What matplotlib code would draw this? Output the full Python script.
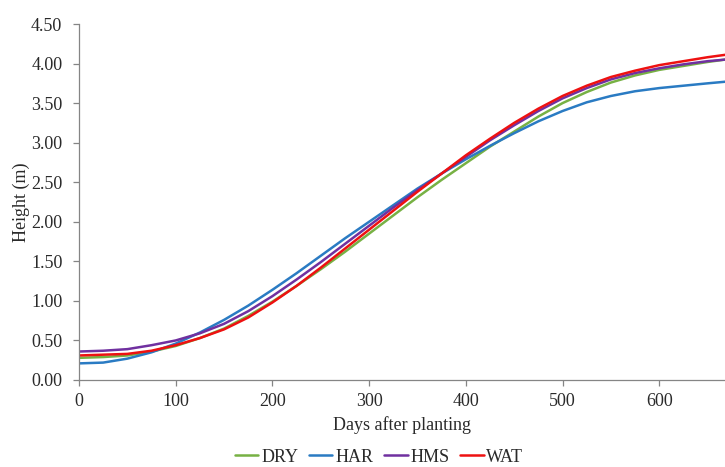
import matplotlib
matplotlib.use("Agg")
import matplotlib.pyplot as plt

days = [0, 25, 50, 75, 100, 125, 150, 175, 200, 225, 250, 275, 300, 325, 350,
        375, 400, 425, 450, 475, 500, 525, 550, 575, 600, 625, 650, 668]

dry = [0.28, 0.29, 0.31, 0.36, 0.43, 0.53, 0.65, 0.81, 0.99, 1.19, 1.40, 1.62, 1.85, 2.08,
       2.31, 2.53, 2.74, 2.95, 3.14, 3.33, 3.50, 3.64, 3.76, 3.85, 3.92, 3.97, 4.02, 4.05]
har = [0.21, 0.22, 0.27, 0.35, 0.46, 0.60, 0.76, 0.94, 1.14, 1.35, 1.57, 1.79, 2.00, 2.21,
       2.42, 2.61, 2.79, 2.96, 3.12, 3.27, 3.40, 3.51, 3.59, 3.65, 3.69, 3.72, 3.75, 3.77]
hms = [0.36, 0.37, 0.39, 0.44, 0.50, 0.59, 0.71, 0.87, 1.06, 1.27, 1.49, 1.72, 1.95, 2.18,
       2.40, 2.61, 2.82, 3.03, 3.22, 3.40, 3.56, 3.69, 3.80, 3.88, 3.94, 3.99, 4.03, 4.05]
wat = [0.31, 0.32, 0.33, 0.37, 0.44, 0.53, 0.64, 0.79, 0.98, 1.19, 1.42, 1.66, 1.90, 2.14,
       2.38, 2.61, 2.84, 3.05, 3.25, 3.43, 3.59, 3.72, 3.83, 3.91, 3.98, 4.03, 4.08, 4.11]

series_names = ["DRY", "HAR", "HMS", "WAT"]
series_vals = [dry, har, hms, wat]
colors = ["#77b144", "#2a7bc3", "#7030a0", "#ee1111"]

plt.rcParams['font.family'] = ['Liberation Serif', 'DejaVu Serif']

fig = plt.figure(figsize=(7.25, 4.67), dpi=100)
ax = fig.add_axes([79/725, 87/467, 646/725, 356/467])

for name, vals, c in zip(series_names, series_vals, colors):
    ax.plot(days, vals, color=c, lw=1.8, label=name, solid_capstyle='round',
            solid_joinstyle='round')

ax.set_xlim(0, 668)
ax.set_ylim(0, 4.5)
ax.set_xticks([0, 100, 200, 300, 400, 500, 600])
ax.set_yticks([0, 0.5, 1.0, 1.5, 2.0, 2.5, 3.0, 3.5, 4.0, 4.5])
ax.set_yticklabels([f"{v:.2f}" for v in ax.get_yticks()])
for s in ["top", "right"]:
    ax.spines[s].set_visible(False)
for s in ["left", "bottom"]:
    ax.spines[s].set_color("#858585")
    ax.spines[s].set_linewidth(0.9)
ax.tick_params(axis='both', colors="#858585", labelcolor="#2a2a2a", labelsize=13,
               length=4, width=0.9, direction='out')
ax.tick_params(axis='y', pad=8)
ax.tick_params(axis='x', pad=5)
ax.set_xlabel("Days after planting", fontsize=13, color="#2a2a2a", labelpad=5)
ax.set_ylabel("Height (m)", fontsize=13, color="#2a2a2a", labelpad=0.5)

leg = fig.legend(loc='center', bbox_to_anchor=(0.523, 1 - 457/467), ncol=4, frameon=False,
                 fontsize=13, handlelength=1.3, handletextpad=0.15, columnspacing=0.6,
                 borderpad=0, borderaxespad=0)
for t in leg.get_texts():
    t.set_color("#2a2a2a")

fig.savefig("out.png", dpi=100)
